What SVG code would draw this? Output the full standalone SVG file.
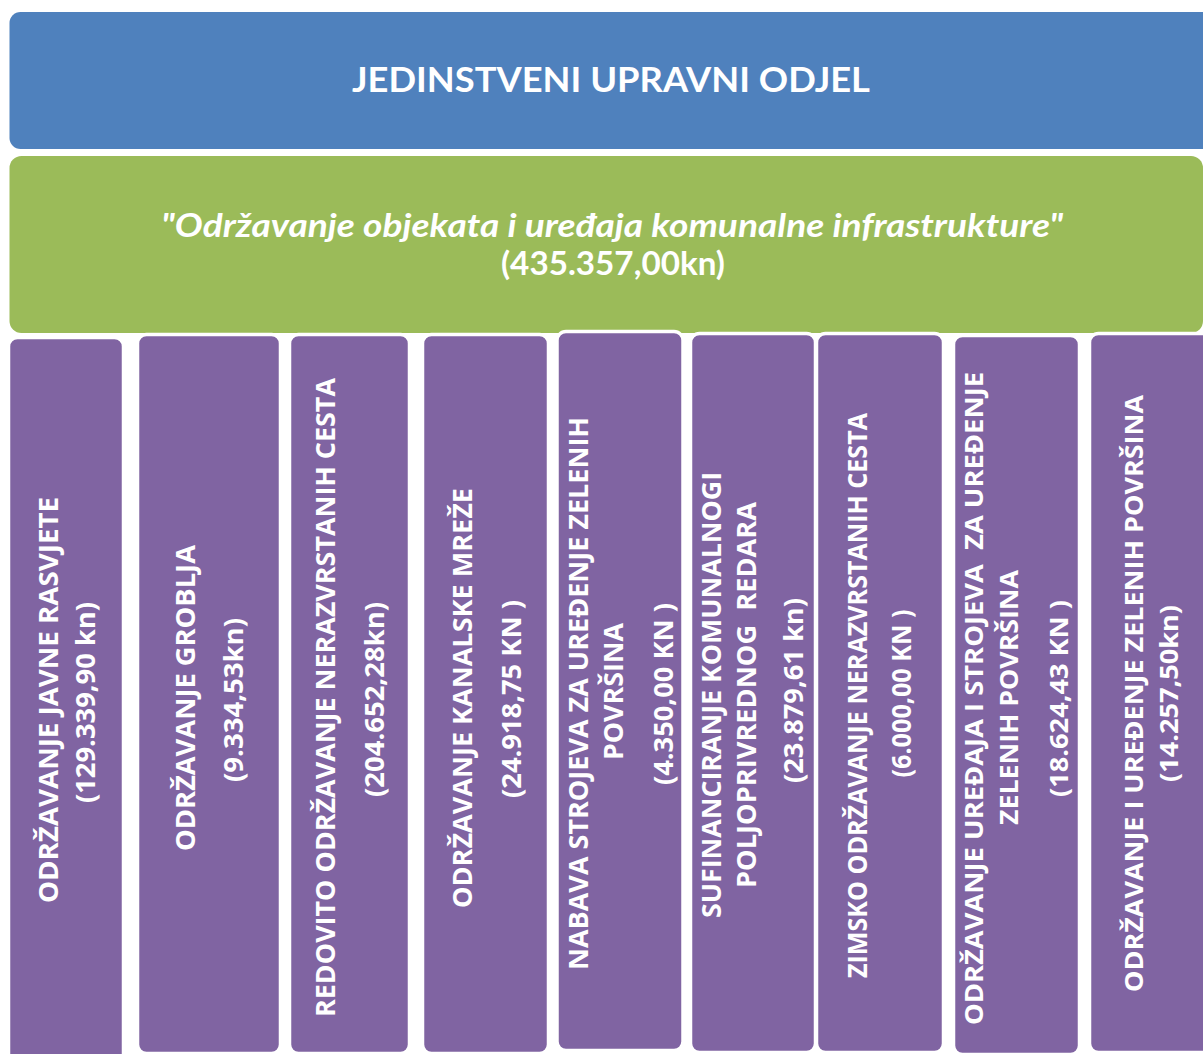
<svg xmlns="http://www.w3.org/2000/svg" width="1203" height="1054" viewBox="0 0 1203 1054">
<style>
.bg{fill:#ffffff}
.blue{fill:#4F81BD}
.green{fill:#9BBB59}
.col{fill:#8064A2;stroke:#ffffff;stroke-width:3.5}
.t{fill:#ffffff;font-family:"Lato","Open Sans","Liberation Sans",sans-serif;font-weight:bold;text-anchor:middle}
.it{font-style:italic}
.c{fill:#ffffff;font-family:"Open Sans","DejaVu Sans","Liberation Sans",sans-serif;font-weight:bold;text-anchor:middle;font-size:27px;white-space:pre}
.s{font-size:25px}
</style>
<rect class="bg" x="0" y="0" width="1203" height="1054"/>
<g id="node-odjel">
<rect class="blue" x="9.5" y="12" width="1210" height="137" rx="11"/>
<text class="t" x="611" y="92" font-size="34" textLength="518" lengthAdjust="spacingAndGlyphs">JEDINSTVENI UPRAVNI ODJEL</text>
</g>
<g id="node-program">
<rect class="green" x="9.5" y="156" width="1193.5" height="177" rx="12"/>
<text class="t it" x="612" y="237" font-size="32" textLength="902" lengthAdjust="spacingAndGlyphs">"Održavanje objekata i uređaja komunalne infrastrukture"</text>
<text class="t" x="613" y="275" font-size="32" textLength="224" lengthAdjust="spacingAndGlyphs">(435.357,00kn)</text>
</g>
<g id="connectors"></g>
<g id="node-1">
<rect class="col" x="8.5" y="337.5" width="115" height="740" rx="9"/>
<text class="c" transform="translate(57.5,700) rotate(-90)" textLength="406" lengthAdjust="spacingAndGlyphs">ODRŽAVANJE JAVNE RASVJETE</text>
<text class="c" transform="translate(95,702.5) rotate(-90)" textLength="201" lengthAdjust="spacingAndGlyphs">(129.339,90 kn)</text>
</g>
<g id="node-2">
<rect class="col" x="137.5" y="334.5" width="143" height="719" rx="9"/>
<text class="c" transform="translate(195,698) rotate(-90)" textLength="306" lengthAdjust="spacingAndGlyphs">ODRŽAVANJE GROBLJA</text>
<text class="c" transform="translate(243,700) rotate(-90)" textLength="164" lengthAdjust="spacingAndGlyphs">(9.334,53kn)</text>
</g>
<g id="node-3">
<rect class="col" x="289.5" y="334.5" width="120" height="719" rx="9"/>
<text class="c" transform="translate(335,697.5) rotate(-90)" textLength="639" lengthAdjust="spacingAndGlyphs">REDOVITO ODRŽAVANJE NERAZVRSTANIH CESTA</text>
<text class="c" transform="translate(384,699.5) rotate(-90)" textLength="195" lengthAdjust="spacingAndGlyphs">(204.652,28kn)</text>
</g>
<g id="node-4">
<rect class="col" x="422.5" y="334.5" width="126" height="719" rx="9"/>
<text class="c" transform="translate(472,698) rotate(-90)" textLength="420" lengthAdjust="spacingAndGlyphs">ODRŽAVANJE KANALSKE MREŽE</text>
<text class="c" transform="translate(521,699) rotate(-90)" textLength="198" lengthAdjust="spacingAndGlyphs">(24.918,75 KN )</text>
</g>
<g id="node-5">
<rect class="col" x="557" y="331.5" width="126" height="719" rx="9"/>
<text class="c" transform="translate(588,693.5) rotate(-90)" textLength="553" lengthAdjust="spacingAndGlyphs">NABAVA STROJEVA ZA UREĐENJE ZELENIH</text>
<text class="c" transform="translate(623,691.5) rotate(-90)" textLength="137" lengthAdjust="spacingAndGlyphs">POVRŠINA</text>
<text class="c" transform="translate(673,694) rotate(-90)" textLength="182" lengthAdjust="spacingAndGlyphs">(4.350,00 KN )</text>
</g>
<g id="node-6">
<rect class="col" x="690.5" y="333.5" width="125" height="719" rx="9"/>
<text class="c" transform="translate(721,695) rotate(-90)" textLength="446" lengthAdjust="spacingAndGlyphs">SUFINANCIRANJE KOMUNALNOGI</text>
<text class="c" transform="translate(756,695) rotate(-90)" textLength="386" lengthAdjust="spacingAndGlyphs">POLJOPRIVREDNOG  REDARA</text>
<text class="c" transform="translate(803,690.5) rotate(-90)" textLength="185" lengthAdjust="spacingAndGlyphs">(23.879,61 kn)</text>
</g>
<g id="node-7">
<rect class="col" x="816.5" y="333.5" width="127" height="719" rx="9"/>
<text class="c" transform="translate(867,695.5) rotate(-90)" textLength="565" lengthAdjust="spacingAndGlyphs">ZIMSKO ODRŽAVANJE NERAZVRSTANIH CESTA</text>
<text class="c" transform="translate(911,693.5) rotate(-90)" textLength="168" lengthAdjust="spacingAndGlyphs">(6.000,00 KN )</text>
</g>
<g id="node-8">
<rect class="col" x="953.5" y="335.5" width="126" height="719" rx="9"/>
<text class="c s" transform="translate(983,698.5) rotate(-90)" textLength="653" lengthAdjust="spacingAndGlyphs">ODRŽAVANJE UREĐAJA I STROJEVA  ZA UREĐENJE</text>
<text class="c s" transform="translate(1018,697.5) rotate(-90)" textLength="255" lengthAdjust="spacingAndGlyphs">ZELENIH POVRŠINA</text>
<text class="c s" transform="translate(1068,698.5) rotate(-90)" textLength="197" lengthAdjust="spacingAndGlyphs">(18.624,43 KN )</text>
</g>
<g id="node-9">
<rect class="col" x="1089.5" y="333.5" width="130" height="719" rx="9"/>
<text class="c s" transform="translate(1143,693.5) rotate(-90)" textLength="597" lengthAdjust="spacingAndGlyphs">ODRŽAVANJE I UREĐENJE ZELENIH POVRŠINA</text>
<text class="c s" transform="translate(1178,693.5) rotate(-90)" textLength="177" lengthAdjust="spacingAndGlyphs">(14.257,50kn)</text>
</g>
</svg>
